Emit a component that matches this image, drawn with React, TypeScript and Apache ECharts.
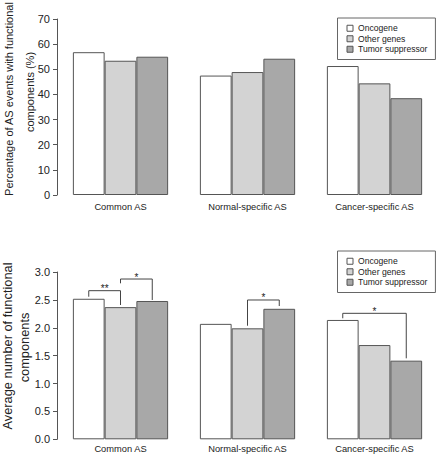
import React, { useEffect, useRef } from "react";
import * as echarts from "echarts";

const categories = ["Common AS", "Normal-specific AS", "Cancer-specific AS"];
const seriesNames = ["Oncogene", "Other genes", "Tumor suppressor"];
const seriesColors = ["#ffffff", "#d3d3d3", "#a8a8a8"];

// Top panel: percentage of AS events with functional components (%)
const pctOncogene = [56.8, 47.5, 51.3];
const pctOther = [53.4, 48.9, 44.4];
const pctTumor = [55.0, 54.2, 38.5];

// Bottom panel: average number of functional components
const avgOncogene = [2.52, 2.07, 2.14];
const avgOther = [2.37, 1.99, 1.69];
const avgTumor = [2.48, 2.34, 1.41];

// Significance brackets (bottom panel)
const bracketCat = [0, 0, 1, 2];
const bracketFrom = [0, 1, 1, 0];
const bracketTo = [1, 2, 2, 2];
const bracketTop = [2.665, 2.874, 2.498, 2.259];
const bracketLeftEnd = [2.557, 2.797, 2.037, 2.17];
const bracketRightEnd = [2.408, 2.498, 2.39, 1.452];
const bracketLabel = ["**", "*", "*", "*"];

const FONT = "'Liberation Sans', Arial, Helvetica, sans-serif";
const TEXT = "#222222";
const LINE = "#555555";

export default function App() {
  const ref = useRef<HTMLDivElement>(null);

  useEffect(() => {
    if (!ref.current) return;
    const chart = echarts.init(ref.current, null, { renderer: "svg" });

    const topData = [pctOncogene, pctOther, pctTumor];
    const botData = [avgOncogene, avgOther, avgTumor];

    const barSeries = (idx: number, data: number[][]) =>
      seriesNames.map((name, i) => ({
        type: "bar",
        name,
        xAxisIndex: idx,
        yAxisIndex: idx,
        data: data[i],
        barGap: "0%",
        barCategoryGap: "25%",
        itemStyle: { color: seriesColors[i], borderColor: LINE, borderWidth: 1 },
        emphasis: { disabled: true },
      }));

    const bracketData = bracketCat.map((c, i) => [
      c,
      bracketTop[i],
      bracketFrom[i],
      bracketTo[i],
      bracketLeftEnd[i],
      bracketRightEnd[i],
    ]);

    const yAxisCommon = {
      type: "value",
      min: 0,
      splitLine: { show: false },
      axisLine: { show: true, lineStyle: { color: LINE, width: 1 } },
      axisTick: { show: true, length: 4, lineStyle: { color: LINE } },
      axisLabel: { fontSize: 11, color: TEXT, margin: 7, fontFamily: FONT },
    };

    const xAxisCommon = {
      type: "category",
      data: categories,
      axisLine: { show: false },
      axisTick: { show: false },
      boundaryGap: true,
    };

    const legendCommon = {
      orient: "vertical",
      left: 337.5,
      itemWidth: 6,
      itemHeight: 6,
      itemGap: 0,
      itemTextGap: 9,
      icon: "rect",
      padding: [5, 8, 5, 9],
      borderColor: "#666666",
      borderWidth: 1,
      data: seriesNames,
      selectedMode: false,
      itemStyle: { borderColor: LINE, borderWidth: 1 },
      textStyle: { fontSize: 8.6, lineHeight: 10.5, color: TEXT, fontFamily: FONT },
    };

    const titleText = (text: string, x: number, y: number, size: number) => ({
      type: "text",
      x,
      y,
      rotation: Math.PI / 2,
      silent: true,
      style: {
        text,
        fontSize: size,
        fontFamily: FONT,
        fill: TEXT,
        align: "center",
        verticalAlign: "middle",
        textAlign: "center",
        textVerticalAlign: "middle",
      },
    });

    chart.setOption({
      animation: false,
      backgroundColor: "#ffffff",
      textStyle: { fontFamily: FONT },
      grid: [
        { left: 57, top: 19, width: 397.5, height: 176 },
        { left: 57, top: 272, width: 397.5, height: 167.3 },
      ],
      xAxis: [
        {
          ...xAxisCommon,
          gridIndex: 0,
          axisLabel: { fontSize: 9.3, color: TEXT, margin: 7, interval: 0, fontFamily: FONT },
        },
        {
          ...xAxisCommon,
          gridIndex: 1,
          axisLabel: { fontSize: 9.3, color: TEXT, margin: 5, interval: 0, fontFamily: FONT },
        },
      ],
      yAxis: [
        { ...yAxisCommon, gridIndex: 0, max: 70, interval: 10 },
        {
          ...yAxisCommon,
          gridIndex: 1,
          max: 3,
          interval: 0.5,
          axisLabel: {
            ...yAxisCommon.axisLabel,
            formatter: (v: number) => v.toFixed(1),
          },
        },
      ],
      legend: [
        { ...legendCommon, top: 18 },
        { ...legendCommon, top: 251 },
      ],
      graphic: [
        titleText("Percentage of AS events with functional", 9, 99, 11),
        titleText("components (%)", 30, 92, 11),
        titleText("Average number of functional", 7, 346, 12.8),
        titleText("components", 24, 347.5, 12.8),
      ],
      series: [
        ...barSeries(0, topData),
        ...barSeries(1, botData),
        {
          type: "custom",
          name: "significance",
          xAxisIndex: 1,
          yAxisIndex: 1,
          data: bracketData,
          encode: { x: 0, y: 1 },
          silent: true,
          z: 5,
          renderItem: (params: any, api: any) => {
            const cat = api.value(0);
            const band = api.size([1, 0])[0];
            const bw = (band * 0.75) / 3;
            const c = api.coord([cat, 0]);
            const x1 = c[0] + (api.value(2) - 1) * bw;
            const x2 = c[0] + (api.value(3) - 1) * bw;
            const yTop = api.coord([cat, api.value(1)])[1];
            const yL = api.coord([cat, api.value(4)])[1];
            const yR = api.coord([cat, api.value(5)])[1];
            return {
              type: "group",
              children: [
                {
                  type: "polyline",
                  shape: { points: [[x1, yL], [x1, yTop], [x2, yTop], [x2, yR]] },
                  style: { stroke: "#444444", lineWidth: 1, fill: null },
                },
                {
                  type: "text",
                  x: (x1 + x2) / 2,
                  y: yTop - 2,
                  style: {
                    text: bracketLabel[params.dataIndex],
                    fontSize: 10,
                    fontFamily: FONT,
                    fill: TEXT,
                    align: "center",
                    verticalAlign: "middle",
                  },
                },
              ],
            };
          },
        },
      ],
    });

    return () => chart.dispose();
  }, []);

  return (
    <div
      ref={ref}
      style={{ position: "fixed", left: 0, top: 0, width: 438, height: 454, background: "#fff" }}
    />
  );
}
